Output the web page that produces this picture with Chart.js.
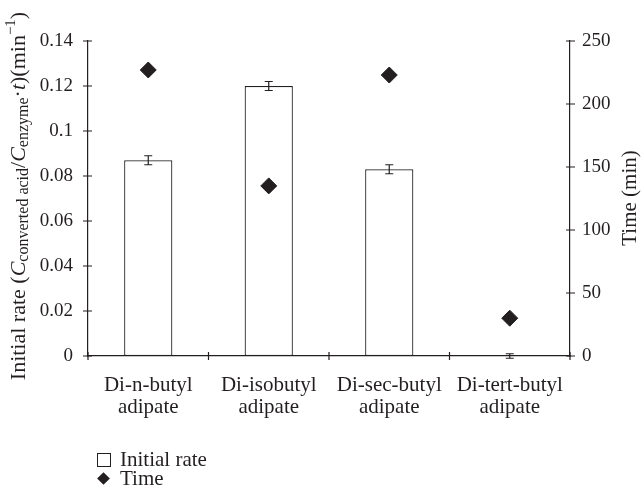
<!DOCTYPE html>
<html>
<head>
<meta charset="utf-8">
<script src="https://cdn.jsdelivr.net/npm/chart.js@4"></script>
<style>
  body { margin: 0; background: #fff; }
  #wrap { position: relative; width: 641px; height: 493px; }
  .leg { position: absolute; left: 120px; font: 21px/21px "Liberation Serif", serif; color: #231f20; }
  .sq { position: absolute; left: 97px; top: 453px; width: 12px; height: 12px; border: 1px solid #231f20; }
  .dm { position: absolute; left: 99px; top: 474px; width: 9px; height: 9px; background: #231f20; transform: rotate(45deg); }
</style>
</head>
<body>
<div id="wrap">
  <canvas id="chart" width="641" height="493"></canvas>
  <div class="sq"></div><div class="leg" style="top:449px">Initial rate</div>
  <div class="dm"></div><div class="leg" style="top:468px">Time</div>
</div>
<script>
// categories and values
var categories = [['Di-n-butyl', 'adipate'], ['Di-isobutyl', 'adipate'], ['Di-sec-butyl', 'adipate'], ['Di-tert-butyl', 'adipate']];
var rateValues = [0.087, 0.120, 0.083, 0];
var rateErrors = [0.002, 0.002, 0.002, 0.001];
var timeValues = [227, 135, 223, 30];

var ink = '#231f20';
var serif = '"Liberation Serif", "Times New Roman", serif';

// error bars on the initial-rate bars
var errorBars = {
    id: 'errorBars',
    afterDatasetsDraw: function(chart) {
        var ctx = chart.ctx;
        var meta = chart.getDatasetMeta(0);
        var y = chart.scales.y;
        ctx.save();
        ctx.strokeStyle = ink;
        ctx.lineWidth = 1.2;
        meta.data.forEach(function(bar, i) {
            var top = y.getPixelForValue(rateValues[i] + rateErrors[i]);
            var bot = y.getPixelForValue(rateValues[i] - rateErrors[i]);
            ctx.beginPath();
            ctx.moveTo(bar.x, top); ctx.lineTo(bar.x, bot);
            ctx.moveTo(bar.x - 4, top); ctx.lineTo(bar.x + 4, top);
            ctx.moveTo(bar.x - 4, bot); ctx.lineTo(bar.x + 4, bot);
            ctx.stroke();
        });
        ctx.restore();
    }
};

// cross tick marks and the axis titles
var axisDecor = {
    id: 'axisDecor',
    afterDraw: function(chart) {
        var ctx = chart.ctx;
        var a = chart.chartArea;
        var y = chart.scales.y, y2 = chart.scales.y2;
        ctx.save();
        ctx.strokeStyle = ink;
        ctx.lineWidth = 1.2;
        ctx.beginPath();
        y.ticks.forEach(function(t) {
            var p = y.getPixelForValue(t.value);
            ctx.moveTo(a.left - 5, p); ctx.lineTo(a.left + 4, p);
        });
        y2.ticks.forEach(function(t) {
            var p = y2.getPixelForValue(t.value);
            ctx.moveTo(a.right - 4, p); ctx.lineTo(a.right + 5, p);
        });
        for (var i = 0; i <= categories.length; i++) {
            var px = a.left + (a.right - a.left) * i / categories.length;
            ctx.moveTo(px, a.bottom - 4); ctx.lineTo(px, a.bottom + 4);
        }
        ctx.stroke();

        // left title with sub/superscripts
        var parts = [
            ['Initial rate (', 'normal', 22, 0],
            ['C', 'italic', 22, 0],
            ['converted acid', 'normal', 16, 5],
            ['/', 'normal', 22, 0],
            ['C', 'italic', 22, 0],
            ['enzyme', 'normal', 16, 5],
            ['\u00b7', 'normal', 22, 0],
            ['t', 'italic', 22, 0],
            [')(min', 'normal', 22, 0],
            ['\u22121', 'normal', 15, -8],
            [')', 'normal', 22, 0]
        ];
        var total = 0;
        parts.forEach(function(p) {
            ctx.font = p[1] + ' ' + p[2] + 'px ' + serif;
            total += ctx.measureText(p[0]).width;
        });
        ctx.fillStyle = ink;
        ctx.translate(19, 196);
        ctx.rotate(-Math.PI / 2);
        ctx.textBaseline = 'middle';
        var cx = -total / 2;
        parts.forEach(function(p) {
            ctx.font = p[1] + ' ' + p[2] + 'px ' + serif;
            ctx.fillText(p[0], cx, p[3]);
            cx += ctx.measureText(p[0]).width;
        });
        ctx.restore();

        ctx.save();
        ctx.fillStyle = ink;
        ctx.font = '21px ' + serif;
        ctx.textAlign = 'center';
        ctx.textBaseline = 'middle';
        ctx.translate(630, 198);
        ctx.rotate(-Math.PI / 2);
        ctx.fillText('Time (min)', 0, 0);
        ctx.restore();
    }
};

var ctx = document.getElementById('chart').getContext('2d');

new Chart(ctx, {
    data: {
        labels: categories,
        datasets: [{
            type: 'bar',
            label: 'Initial rate',
            data: rateValues,
            yAxisID: 'y',
            backgroundColor: '#ffffff',
            borderColor: ink,
            borderWidth: 1.2,
            borderSkipped: false,
            barPercentage: 0.4,
            categoryPercentage: 1,
            order: 2
        }, {
            type: 'line',
            label: 'Time',
            data: timeValues,
            yAxisID: 'y2',
            showLine: false,
            pointStyle: 'rectRot',
            pointRadius: 8,
            pointBackgroundColor: ink,
            pointBorderColor: ink,
            order: 1
        }]
    },
    options: {
        responsive: false,
        animation: false,
        layout: { padding: { top: 41, left: 0, right: 0, bottom: 0 } },
        plugins: { legend: { display: false }, tooltip: { enabled: false } },
        scales: {
            x: {
                grid: { display: false },
                border: { display: true, color: ink, width: 1.2 },
                ticks: { color: ink, font: { family: serif, size: 21, lineHeight: 1.05 }, padding: 10, maxRotation: 0 },
                afterFit: function(s) { s.height = 137; }
            },
            y: {
                position: 'left',
                min: 0, max: 0.14,
                grid: { display: false },
                border: { display: true, color: ink, width: 1.2 },
                ticks: {
                    stepSize: 0.02, color: ink, padding: 7,
                    font: { family: serif, size: 19 },
                    callback: function(v) { return String(+v.toFixed(2)); }
                },
                afterFit: function(s) { s.width = 88; }
            },
            y2: {
                position: 'right',
                min: 0, max: 250,
                grid: { display: false },
                border: { display: true, color: ink, width: 1.2 },
                ticks: { stepSize: 50, color: ink, padding: 4, font: { family: serif, size: 19 } },
                afterFit: function(s) { s.width = 71; }
            }
        }
    },
    plugins: [errorBars, axisDecor]
});
</script>
</body>
</html>
